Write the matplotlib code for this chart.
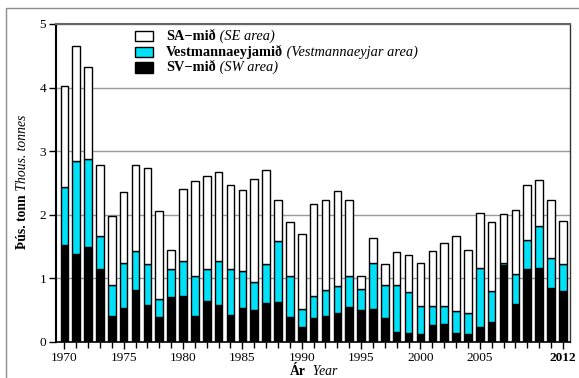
import numpy as np
import matplotlib
matplotlib.use("Agg")
import matplotlib.pyplot as plt
from matplotlib.patches import Rectangle
from matplotlib.lines import Line2D

plt.rcParams["font.family"] = ["Liberation Serif", "DejaVu Serif"]

years = np.arange(1970, 2013)
# SV-mið (SW area)
sv = [1.52, 1.39, 1.50, 1.14, 0.41, 0.53, 0.82, 0.58, 0.40, 0.71,
      0.73, 0.41, 0.64, 0.58, 0.42, 0.53, 0.50, 0.62, 0.63, 0.40,
      0.23, 0.38, 0.41, 0.45, 0.55, 0.51, 0.52, 0.38, 0.15, 0.14,
      0.12, 0.27, 0.29, 0.14, 0.13, 0.23, 0.32, 1.21, 0.60, 1.14,
      1.17, 0.85, 0.80]
# Vestmannaeyjamið
ve = [0.91, 1.45, 1.37, 0.52, 0.49, 0.71, 0.61, 0.65, 0.28, 0.44,
      0.55, 0.62, 0.51, 0.70, 0.73, 0.58, 0.45, 0.60, 0.96, 0.64,
      0.29, 0.35, 0.40, 0.43, 0.48, 0.32, 0.72, 0.52, 0.74, 0.65,
      0.44, 0.29, 0.27, 0.35, 0.33, 0.94, 0.48, 0.04, 0.47, 0.46,
      0.65, 0.47, 0.43]
# SA-mið (SE area)
sa = [1.60, 1.82, 1.45, 1.13, 1.08, 1.12, 1.35, 1.50, 1.38, 0.30,
      1.12, 1.50, 1.46, 1.40, 1.32, 1.28, 1.61, 1.49, 0.65, 0.84,
      1.18, 1.44, 1.42, 1.50, 1.21, 0.20, 0.40, 0.33, 0.53, 0.58,
      0.68, 0.87, 0.99, 1.18, 0.98, 0.86, 1.08, 0.76, 1.00, 0.87,
      0.72, 0.92, 0.68]

series_bold = ["SA\u2212mið", "Vestmannaeyjamið", "SV\u2212mið"]
series_it = ["(SE area)", "(Vestmannaeyjar area)", "(SW area)"]
colors = ["white", "#00e1f8", "black"]

label_years = [1970, 1975, 1980, 1985, 1990, 1995, 2000, 2005, 2012]

W, H = 579, 378
fig = plt.figure(figsize=(W / 100, H / 100), dpi=100)
ax = fig.add_axes([56 / W, 1 - 342 / H, (570 - 56) / W, (342 - 24) / H])

sv = np.array(sv)
ve = np.array(ve)
sa = np.array(sa)
bw = 0.64
ax.bar(years, sv, width=bw, color=colors[2], edgecolor="black", lw=1, zorder=3)
ax.bar(years, ve, width=bw, bottom=sv, color=colors[1], edgecolor="black", lw=1, zorder=3)
ax.bar(years, sa, width=bw, bottom=sv + ve, color=colors[0], edgecolor="black", lw=1, zorder=3)

ax.set_xlim(1969.3, 2012.6)
ax.set_ylim(0, 5)
ax.set_yticks(range(6))
ax.yaxis.grid(True, color="#9a9a9a", lw=1)
ax.set_axisbelow(True)

ax.set_xticks(label_years)
ax.set_xticks([y for y in years if y not in label_years], minor=True)
ax.set_xticklabels([str(y) for y in label_years])
ax.get_xticklabels()[-1].set_fontweight("bold")
ax.tick_params(axis="both", which="major", direction="out", length=5, width=1, labelsize=9.6, pad=2)
ax.tick_params(axis="x", which="minor", direction="out", length=4, width=1)

ax.spines["left"].set_linewidth(1.5)
ax.spines["bottom"].set_linewidth(1.2)
ax.spines["top"].set_color("#666666")
ax.spines["top"].set_linewidth(1.5)
ax.spines["right"].set_color("#333333")
ax.spines["right"].set_linewidth(1)

# legend built by hand (bold + italic parts)
row_y = [0.962, 0.912, 0.862]
for c, b, it, yy in zip(colors, series_bold, series_it, row_y):
    ax.add_patch(Rectangle((0.154, yy - 0.017), 0.035, 0.034, transform=ax.transAxes,
                           facecolor=c, edgecolor="black", lw=1, zorder=5))
    t = ax.text(0.214, yy, b, transform=ax.transAxes, fontsize=10.4, fontweight="bold",
                va="center", ha="left", zorder=5)
    ax.annotate(" " + it, xycoords=t, xy=(1, 0), va="bottom", ha="left",
                fontsize=10.4, fontstyle="italic", zorder=5)

# y label
t = fig.text(23 / W, 1 - 249 / H, "Þús. tonn", rotation=90, ha="center", va="bottom",
             fontsize=9.8, fontweight="bold")
plt.annotate(" Thous. tonnes", xycoords=t, xy=(0.5, 1), ha="center", va="bottom",
             rotation=90, fontsize=9.8, fontstyle="italic", annotation_clip=False)

# x label, centred under the axes
t2 = fig.text(290 / W, 0.0, "Ár", ha="left", va="bottom", fontsize=9.8, fontweight="bold")
plt.annotate("  Year", xycoords=t2, xy=(1, 0), ha="left", va="bottom",
             fontsize=9.8, fontstyle="italic", annotation_clip=False)

# frame around the figure
fig.add_artist(Line2D([5.5 / W, 5.5 / W, 1.0], [0.0, 1 - 7.5 / H, 1 - 7.5 / H],
                      transform=fig.transFigure, color="#8c8c8c", lw=1))

fig.savefig("out.png", dpi=100)
